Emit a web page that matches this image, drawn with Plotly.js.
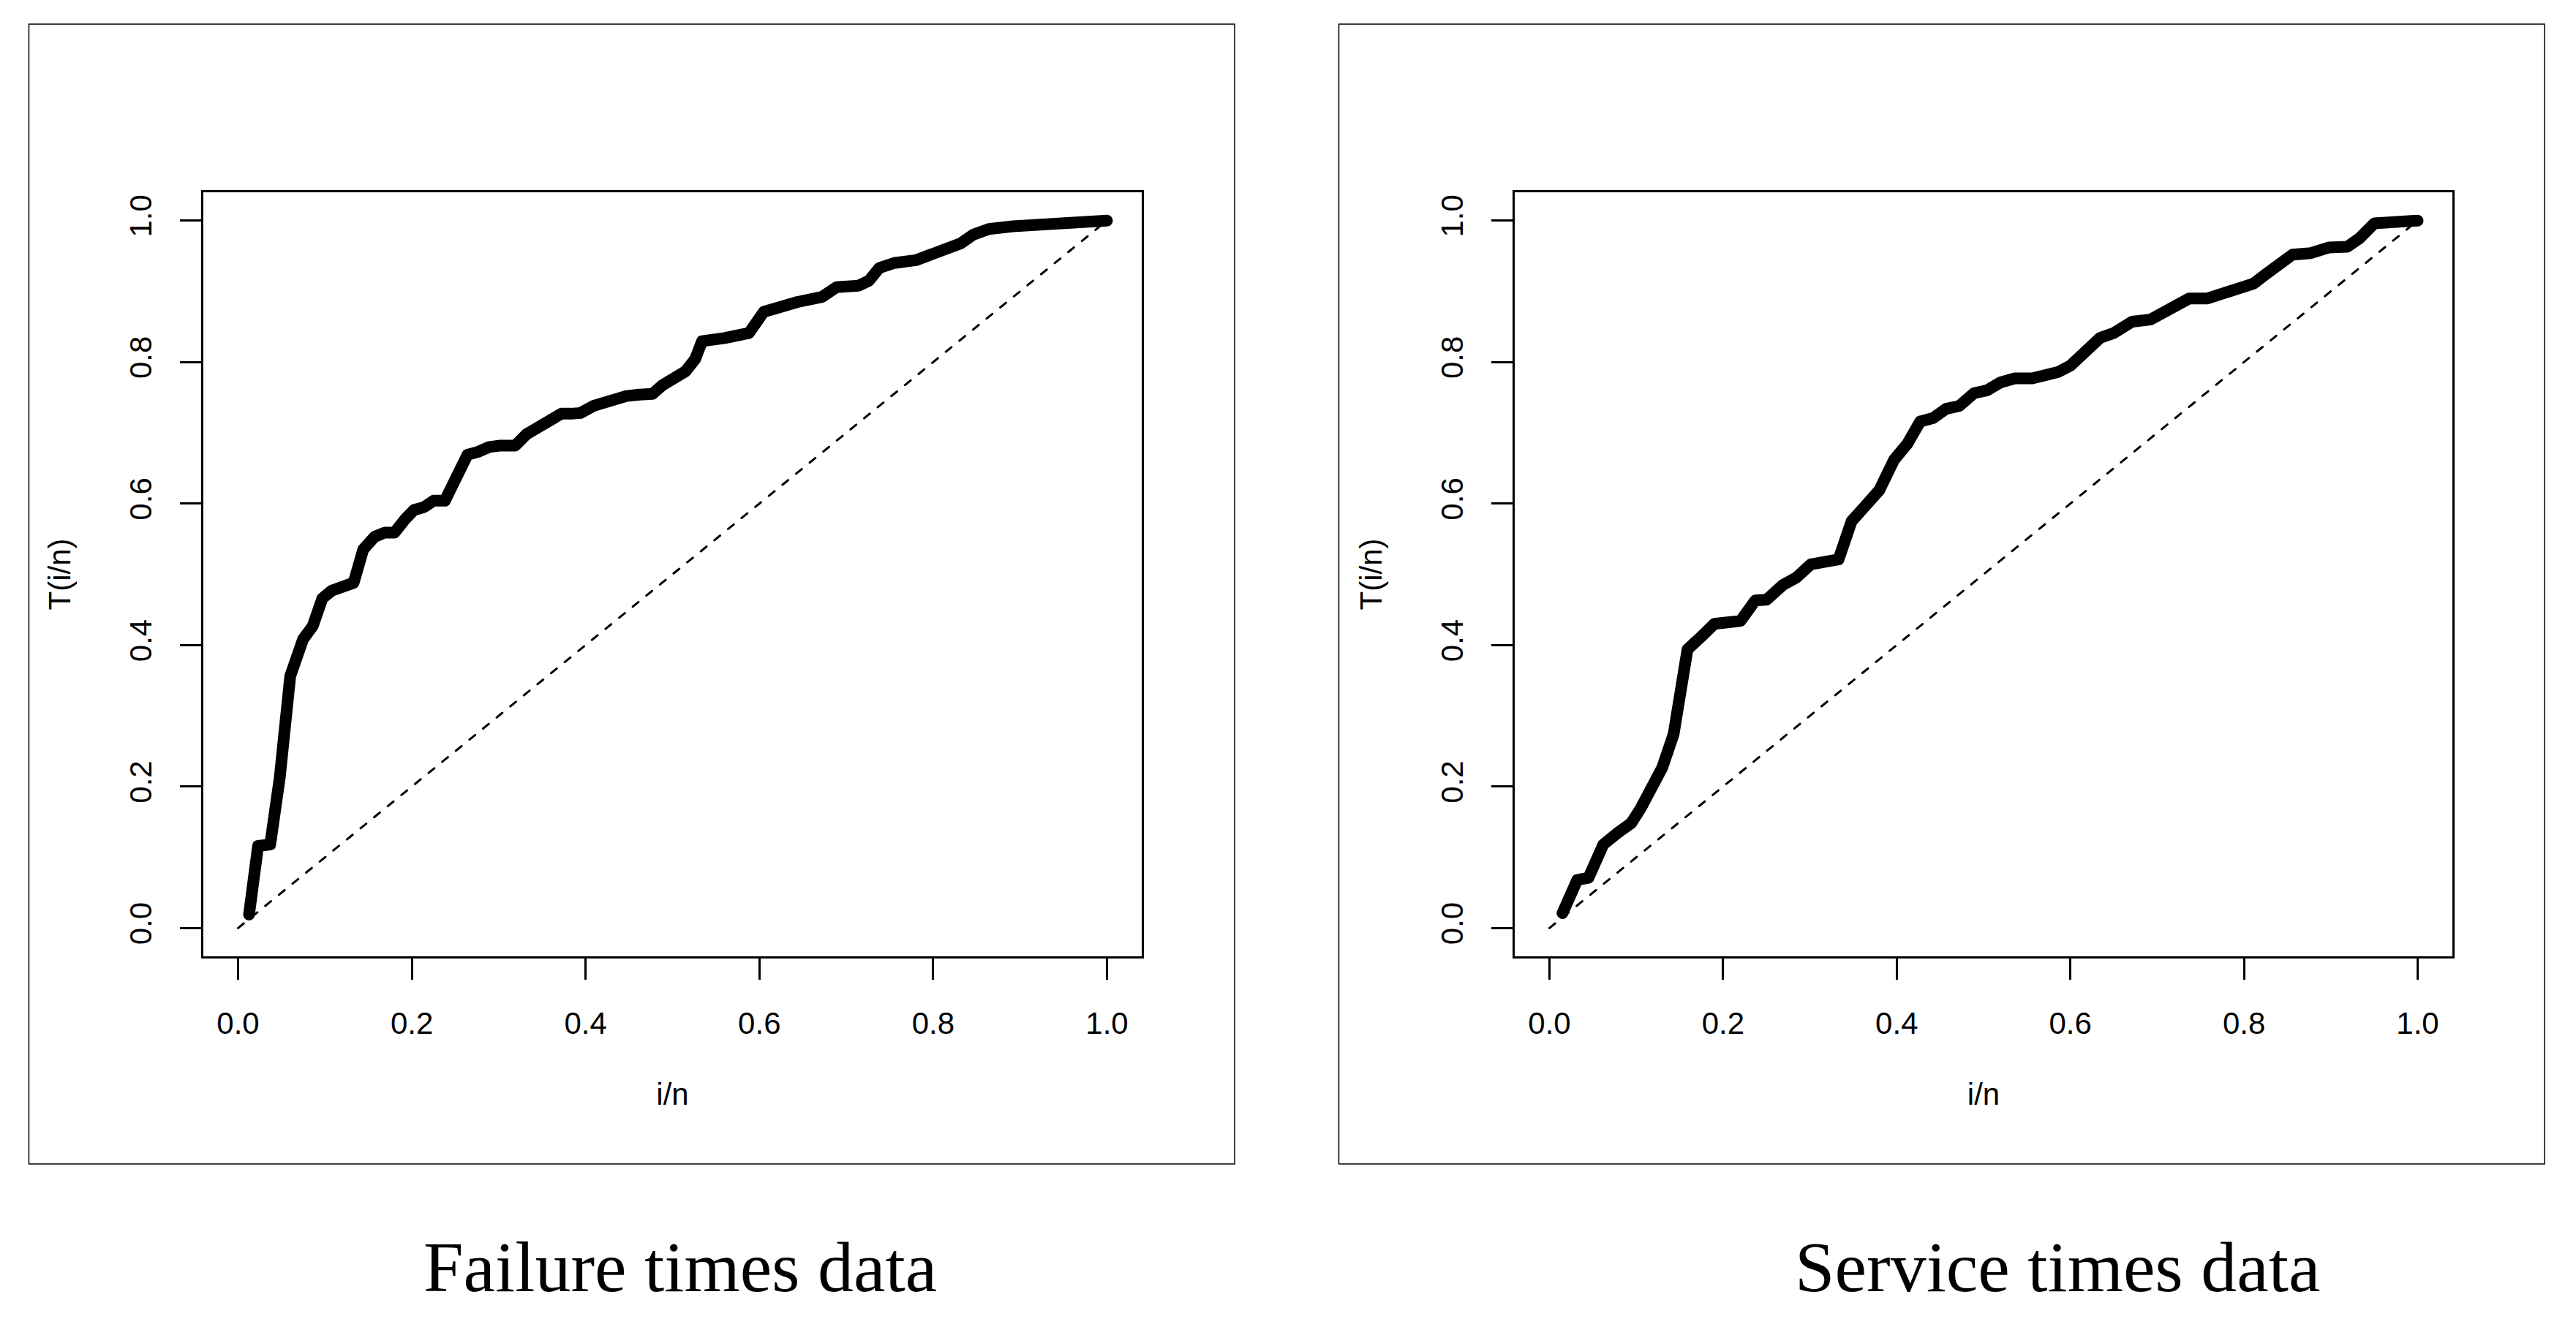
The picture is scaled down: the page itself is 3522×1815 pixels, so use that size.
<!DOCTYPE html>
<html>
<head>
<meta charset="utf-8">
<script src="https://cdn.plot.ly/plotly-3.0.1.min.js"></script>
<style>
html,body{margin:0;padding:0;background:#fff;}
#chart{width:3522px;height:1815px;}
.scatterlayer .js-line{stroke-linejoin:round !important;stroke-linecap:round !important;}
</style>
</head>
<body>
<div id="chart"></div>
<script>
// ---- data ----
const failX = [0.0126,0.023,0.037,0.048,0.060,0.0747,0.086,0.097,0.108,0.122,0.133,0.144,0.157,0.169,0.180,0.193,0.2025,0.214,0.225,0.238,0.251,0.264,0.276,0.289,0.302,0.319,0.332,0.345,0.358,0.372,0.383,0.394,0.409,0.420,0.434,0.447,0.462,0.477,0.488,0.501,0.515,0.526,0.534,0.560,0.588,0.605,0.623,0.644,0.672,0.689,0.714,0.726,0.738,0.755,0.780,0.797,0.815,0.832,0.846,0.864,0.892,0.926,0.961,1.0];
const failY = [0.019,0.116,0.118,0.213,0.356,0.408,0.427,0.466,0.477,0.481,0.488,0.535,0.553,0.559,0.559,0.579,0.591,0.595,0.604,0.604,0.640,0.669,0.673,0.680,0.682,0.682,0.698,0.709,0.718,0.727,0.727,0.728,0.738,0.743,0.750,0.752,0.754,0.755,0.767,0.775,0.787,0.804,0.8295,0.834,0.841,0.871,0.879,0.885,0.892,0.906,0.908,0.915,0.933,0.940,0.944,0.952,0.959,0.968,0.980,0.988,0.992,0.995,0.999,1.0];

const serviceX = [0.015,0.032,0.045,0.062,0.077,0.094,0.105,0.119,0.130,0.143,0.152,0.159,0.175,0.190,0.205,0.220,0.237,0.250,0.269,0.284,0.301,0.318,0.333,0.348,0.363,0.380,0.397,0.412,0.427,0.442,0.457,0.472,0.489,0.504,0.519,0.536,0.556,0.586,0.600,0.615,0.634,0.650,0.671,0.692,0.716,0.737,0.758,0.786,0.811,0.825,0.856,0.877,0.898,0.919,0.933,0.950,0.971,1.0];
const serviceY = [0.021,0.068,0.071,0.118,0.133,0.148,0.169,0.198,0.227,0.274,0.358,0.394,0.412,0.430,0.432,0.434,0.463,0.464,0.485,0.495,0.514,0.517,0.521,0.575,0.593,0.619,0.662,0.684,0.716,0.721,0.734,0.738,0.756,0.760,0.771,0.777,0.777,0.786,0.795,0.813,0.834,0.841,0.857,0.860,0.876,0.890,0.890,0.901,0.911,0.924,0.952,0.954,0.962,0.963,0.975,0.996,0.999,1.0];

const diagX = [0, 1];
const diagY = [0, 1];

const tickVals = [0, 0.2, 0.4, 0.6, 0.8, 1.0];
const tickText = ["0.0", "0.2", "0.4", "0.6", "0.8", "1.0"];

const panelTitles = ["Failure times data", "Service times data"];
const xTitle = "i/n";
const yTitle = "T(i/n)";

// ---- geometry (pixels) ----
const W = 3522, H = 1815;
const px = v => v / W;
const py = v => 1 - v / H;

const sans = "Liberation Sans, Arial, sans-serif";
const serif = "Liberation Serif, Times New Roman, serif";

function thick(x, y, xa, ya) {
  return {x: x, y: y, xaxis: xa, yaxis: ya, type: 'scatter', mode: 'lines',
          line: {color: '#000', width: 16}, hoverinfo: 'skip', showlegend: false};
}
function dashed(xa, ya) {
  return {x: diagX, y: diagY, xaxis: xa, yaxis: ya, type: 'scatter', mode: 'lines',
          line: {color: '#000', width: 3, dash: '10px,14px'}, hoverinfo: 'skip', showlegend: false};
}

const data = [
  dashed('x', 'y'), thick(failX, failY, 'x', 'y'),
  dashed('x2', 'y2'), thick(serviceX, serviceY, 'x2', 'y2')
];

function xaxisDef(d0, d1, anchor) {
  return {
    domain: [px(d0), px(d1)], anchor: anchor, range: [-0.04, 1.04],
    showgrid: false, zeroline: false,
    showline: true, linecolor: '#000', linewidth: 3, mirror: true,
    ticks: 'outside', ticklen: 29, tickwidth: 3, tickcolor: '#000',
    tickvals: tickVals, ticktext: tickText, ticklabelstandoff: 24,
    tickfont: {family: sans, size: 42, color: '#000'},
    title: {text: xTitle, font: {family: sans, size: 42, color: '#000'}, standoff: 60}
  };
}
function yaxisDef(anchor) {
  return {
    domain: [py(1308), py(263)], anchor: anchor, range: [-0.04, 1.04],
    showgrid: false, zeroline: false,
    showline: true, linecolor: '#000', linewidth: 3, mirror: true,
    ticks: 'outside', ticklen: 29, tickwidth: 3, tickcolor: '#000',
    tickvals: tickVals, ticktext: tickText, tickangle: -90, ticklabelstandoff: 22,
    tickfont: {family: sans, size: 42, color: '#000'},
    title: {text: yTitle, font: {family: sans, size: 42, color: '#000'}, standoff: 60}
  };
}

const layout = {
  width: W, height: H,
  margin: {l: 0, r: 0, t: 0, b: 0},
  paper_bgcolor: '#fff', plot_bgcolor: '#fff',
  showlegend: false,
  xaxis: xaxisDef(278, 1561, 'y'),
  yaxis: yaxisDef('x'),
  xaxis2: xaxisDef(2071, 3353, 'y2'),
  yaxis2: yaxisDef('x2'),
  shapes: [
    {type: 'rect', xref: 'paper', yref: 'paper', x0: px(39.5), x1: px(1688), y0: py(1592), y1: py(33),
     line: {color: '#000', width: 1.5}},
    {type: 'rect', xref: 'paper', yref: 'paper', x0: px(1830.5), x1: px(3479), y0: py(1592), y1: py(33),
     line: {color: '#000', width: 1.5}}
  ],
  annotations: [
    {text: panelTitles[0], xref: 'paper', yref: 'paper', x: px(930), y: py(1733),
     xanchor: 'center', yanchor: 'middle', showarrow: false,
     font: {family: serif, size: 98, color: '#000'}},
    {text: panelTitles[1], xref: 'paper', yref: 'paper', x: px(2813), y: py(1733),
     xanchor: 'center', yanchor: 'middle', showarrow: false,
     font: {family: serif, size: 98, color: '#000'}}
  ]
};

Plotly.newPlot('chart', data, layout, {staticPlot: true, displayModeBar: false});
</script>
</body>
</html>
